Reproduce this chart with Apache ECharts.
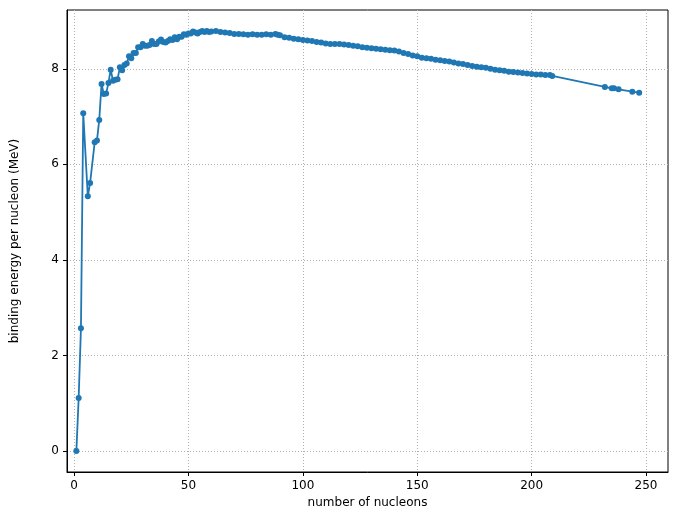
<!DOCTYPE html><html><head><meta charset="utf-8"><script src="https://cdn.jsdelivr.net/npm/echarts@6/dist/echarts.min.js"></script></head><body style="margin:0"><div id="c" style="width:678px;height:525px"></div><script>
const massNumbers=[1,2,3,4,6,7,9,10,11,12,13,14,15,16,17,18,19,20,21,22,23,24,25,26,27,28,29,30,31,32,33,34,35,36,37,38,39,40,41,42,43,44,45,46,47,48,49,50,51,52,53,54,55,56,57,58,59,60,62,64,66,68,70,72,74,76,78,80,82,84,86,88,89,90,92,94,96,98,100,102,104,106,108,110,112,114,116,118,120,122,124,126,128,130,132,134,136,138,140,142,144,146,148,150,152,154,156,158,160,162,164,166,168,170,172,174,176,178,180,182,184,186,188,190,192,194,196,198,200,202,204,206,208,209,232,235,236,238,244,247];
const bindingEnergy=[0,1.11,2.57,7.07,5.33,5.61,6.46,6.50,6.93,7.68,7.47,7.48,7.70,7.98,7.75,7.77,7.78,8.03,7.97,8.08,8.11,8.26,8.22,8.33,8.33,8.45,8.45,8.52,8.48,8.48,8.50,8.58,8.52,8.52,8.57,8.61,8.56,8.55,8.58,8.62,8.60,8.66,8.62,8.67,8.67,8.72,8.71,8.74,8.74,8.78,8.76,8.74,8.77,8.79,8.77,8.79,8.77,8.78,8.79,8.77,8.76,8.75,8.73,8.73,8.72,8.71,8.72,8.71,8.71,8.72,8.71,8.73,8.71,8.70,8.66,8.65,8.63,8.62,8.60,8.59,8.58,8.56,8.55,8.53,8.52,8.52,8.52,8.51,8.50,8.48,8.47,8.45,8.44,8.43,8.42,8.41,8.40,8.39,8.38,8.36,8.33,8.31,8.28,8.26,8.23,8.22,8.21,8.19,8.18,8.16,8.15,8.13,8.11,8.10,8.08,8.06,8.04,8.03,8.02,8.00,7.98,7.97,7.96,7.94,7.93,7.92,7.91,7.90,7.89,7.88,7.88,7.87,7.87,7.85,7.62,7.59,7.59,7.57,7.52,7.50];
const xTicks=[0,50,100,150,200,250];
const yTicks=[0,2,4,6,8];
const ch=echarts.init(document.getElementById('c'));
const line={show:true,onZero:false,lineStyle:{color:'#000'}};
const tick={show:true,length:4,lineStyle:{color:'#000'}};
const lab={color:'#000',fontSize:12,fontFamily:'DejaVu Sans'};
const split={show:true,lineStyle:{color:'#b0b0b0',type:[1,2]}};
ch.setOption({animation:false,
grid:{left:67,right:10,top:10,bottom:53,show:true,borderColor:'#000',borderWidth:1},
xAxis:{type:'value',min:-3.1,max:259.6,name:'number of nucleons',nameLocation:'middle',nameGap:24,nameTextStyle:lab,axisLine:line,axisTick:Object.assign({customValues:xTicks},tick),axisLabel:Object.assign({customValues:xTicks},lab),splitLine:split},
yAxis:{type:'value',min:-0.44,max:9.23,name:'binding energy per nucleon (MeV)',nameLocation:'middle',nameGap:46,nameTextStyle:lab,axisLine:line,axisTick:Object.assign({customValues:yTicks},tick),axisLabel:Object.assign({customValues:yTicks},lab),splitLine:split},
series:[{type:'line',data:massNumbers.map((a,i)=>[a,bindingEnergy[i]]),symbol:'circle',symbolSize:6,showAllSymbol:true,itemStyle:{color:'#1f77b4'},lineStyle:{color:'#1f77b4',width:1.8}}]});
</script></body></html>
